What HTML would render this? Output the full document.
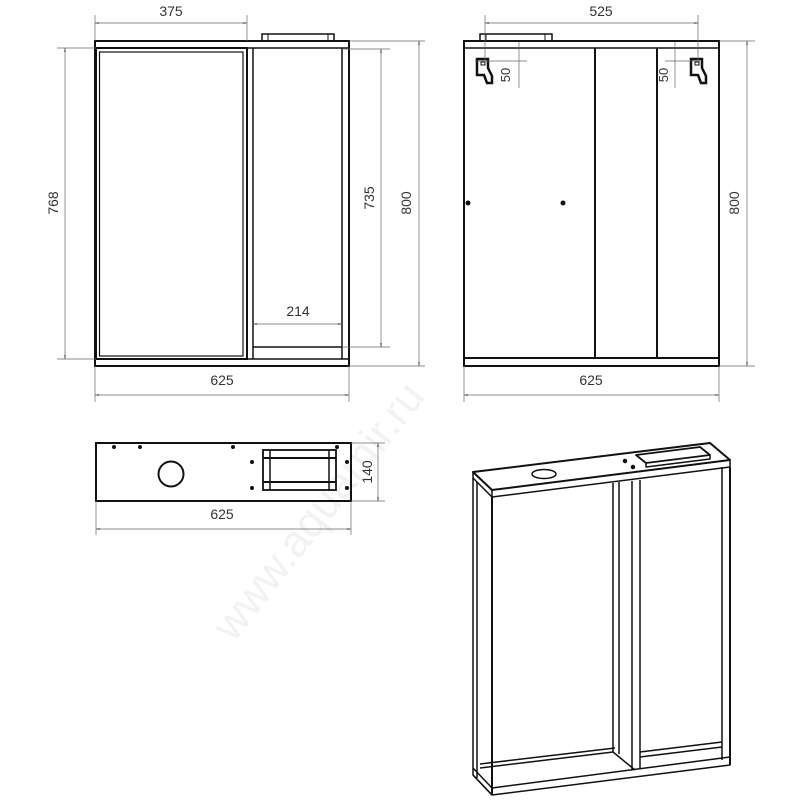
<!DOCTYPE html>
<html><head><style>html,body{margin:0;padding:0;background:#fff}svg{display:block}</style></head>
<body>
<svg width="800" height="800" viewBox="0 0 800 800" xmlns="http://www.w3.org/2000/svg" font-family="Liberation Sans, sans-serif">
<defs>
<marker id="a" viewBox="0 0 10 10" refX="10" refY="5" markerWidth="6" markerHeight="6" orient="auto-start-reverse"><path d="M0,3 L10,5 L0,7" fill="none" stroke="#555" stroke-width="1"/></marker>
</defs>
<text x="330" y="520" font-size="44" fill="#f2f2f2" transform="rotate(-52 330 520)" text-anchor="middle">www.aquamir.ru</text>

<!-- FRONT VIEW -->
<g fill="none" stroke="#111">
<rect x="95" y="41" width="254" height="325" stroke-width="2"/>
<line x1="95" y1="48" x2="349" y2="48" stroke-width="1.5"/>
<rect x="96" y="48" width="151" height="311" stroke-width="2"/>
<rect x="99.5" y="52" width="143.5" height="304" stroke-width="1.2"/>
<line x1="253" y1="48" x2="253" y2="359" stroke-width="1.5"/>
<line x1="342" y1="48" x2="342" y2="359" stroke-width="1.5"/>
<line x1="253" y1="347" x2="342" y2="347" stroke-width="1.5"/>
<line x1="95" y1="359" x2="349" y2="359" stroke-width="1.5"/>
<rect x="262" y="34" width="72" height="7" stroke-width="1.5"/>
<line x1="268" y1="34" x2="268" y2="41"/><line x1="328" y1="34" x2="328" y2="41"/>
<line x1="156" y1="48.5" x2="185" y2="48.5" stroke-width="1"/>
</g>
<g stroke="#666" stroke-width="0.7" fill="none">
<line x1="95" y1="15" x2="95" y2="41"/><line x1="247" y1="15" x2="247" y2="41"/>
<line x1="95" y1="23" x2="247" y2="23" marker-start="url(#a)" marker-end="url(#a)"/>
<line x1="57" y1="48" x2="96" y2="48"/><line x1="57" y1="359" x2="96" y2="359"/>
<line x1="65" y1="48" x2="65" y2="359" marker-start="url(#a)" marker-end="url(#a)"/>
<line x1="342" y1="49" x2="390" y2="49"/><line x1="342" y1="347" x2="390" y2="347"/>
<line x1="381" y1="49" x2="381" y2="347" marker-start="url(#a)" marker-end="url(#a)"/>
<line x1="349" y1="41" x2="425" y2="41"/><line x1="349" y1="366" x2="425" y2="366"/>
<line x1="419" y1="41" x2="419" y2="366" marker-start="url(#a)" marker-end="url(#a)"/>
<line x1="253" y1="324" x2="342" y2="324" marker-start="url(#a)" marker-end="url(#a)"/>
<line x1="95" y1="366" x2="95" y2="402"/><line x1="349" y1="366" x2="349" y2="402"/>
<line x1="95" y1="395" x2="349" y2="395" marker-start="url(#a)" marker-end="url(#a)"/>
</g>
<g font-size="14" fill="#333" text-anchor="middle">
<text x="171" y="16">375</text>
<text x="222" y="385">625</text>
<text x="298" y="316">214</text>
<text transform="translate(58,203) rotate(-90)">768</text>
<text transform="translate(374,198) rotate(-90)">735</text>
<text transform="translate(411,203) rotate(-90)">800</text>
</g>

<!-- BACK VIEW -->
<g fill="none" stroke="#111">
<rect x="464" y="41" width="255" height="325" stroke-width="2"/>
<line x1="464" y1="48" x2="719" y2="48" stroke-width="1.5"/>
<line x1="464" y1="358" x2="719" y2="358" stroke-width="2"/>
<line x1="595" y1="48" x2="595" y2="358" stroke-width="2"/>
<line x1="657" y1="48" x2="657" y2="358" stroke-width="2"/>
<rect x="480" y="34" width="72" height="7" stroke-width="1.5"/>
<line x1="486" y1="34" x2="486" y2="41"/><line x1="545" y1="34" x2="545" y2="41"/>
<path d="M477,59 h11 v9 l4,8 v7 h-5 l-3,-8 h-7 z" stroke-width="2.5"/>
<path d="M691,59 h11 v9 l4,8 v7 h-5 l-3,-8 h-7 z" stroke-width="2.5"/>
<rect x="481" y="62" width="4" height="3" stroke-width="1"/>
<rect x="695" y="62" width="4" height="3" stroke-width="1"/>
</g>
<circle cx="468" cy="203" r="2.5" fill="#111"/><circle cx="563" cy="203" r="2.5" fill="#111"/>
<g stroke="#666" stroke-width="0.7" fill="none">
<line x1="485" y1="15" x2="485" y2="62"/><line x1="698" y1="15" x2="698" y2="62"/>
<line x1="485" y1="23" x2="698" y2="23" marker-start="url(#a)" marker-end="url(#a)"/>
<line x1="519" y1="42" x2="519" y2="88"/><line x1="475" y1="61" x2="527" y2="61"/>
<line x1="675" y1="42" x2="675" y2="88"/><line x1="665" y1="61" x2="700" y2="61"/>
<line x1="719" y1="41" x2="755" y2="41"/><line x1="719" y1="366" x2="755" y2="366"/>
<line x1="747" y1="41" x2="747" y2="366" marker-start="url(#a)" marker-end="url(#a)"/>
<line x1="464" y1="366" x2="464" y2="402"/><line x1="719" y1="366" x2="719" y2="402"/>
<line x1="464" y1="395" x2="719" y2="395" marker-start="url(#a)" marker-end="url(#a)"/>
</g>
<g font-size="14" fill="#333" text-anchor="middle">
<text x="601" y="16">525</text>
<text x="591" y="385">625</text>
<text transform="translate(510,75) rotate(-90)" font-size="13">50</text>
<text transform="translate(668,75) rotate(-90)" font-size="13">50</text>
<text transform="translate(739,203) rotate(-90)">800</text>
</g>

<!-- TOP VIEW -->
<g fill="none" stroke="#111">
<rect x="96" y="443" width="255" height="58" stroke-width="2"/>
<circle cx="171" cy="474" r="12.5" stroke-width="2"/>
<rect x="263" y="450" width="73" height="40" stroke-width="1.8"/>
<line x1="263" y1="458" x2="336" y2="458" stroke-width="2"/>
<line x1="263" y1="482" x2="336" y2="482" stroke-width="2"/>
<line x1="270" y1="450" x2="270" y2="490" stroke-width="1.5"/>
<line x1="329" y1="450" x2="329" y2="490" stroke-width="1.5"/>
</g>
<g fill="#111">
<circle cx="114" cy="447" r="2"/><circle cx="140" cy="447" r="2"/><circle cx="233" cy="447" r="2"/><circle cx="337" cy="447" r="2"/>
<circle cx="252" cy="462" r="2"/><circle cx="252" cy="488" r="2"/><circle cx="347" cy="462" r="2"/><circle cx="347" cy="488" r="2"/>
</g>
<g stroke="#666" stroke-width="0.7" fill="none">
<line x1="351" y1="443" x2="385" y2="443"/><line x1="351" y1="501" x2="385" y2="501"/>
<line x1="378" y1="443" x2="378" y2="501" marker-start="url(#a)" marker-end="url(#a)"/>
<line x1="96" y1="501" x2="96" y2="535"/><line x1="351" y1="501" x2="351" y2="535"/>
<line x1="96" y1="529" x2="351" y2="529" marker-start="url(#a)" marker-end="url(#a)"/>
</g>
<g font-size="14" fill="#333" text-anchor="middle">
<text x="222" y="519">625</text>
<text transform="translate(372,472) rotate(-90)">140</text>
</g>

<!-- ISOMETRIC -->
<g fill="none" stroke="#111" stroke-width="1.5" stroke-linejoin="round">
<path d="M473,472 L710,443 L730,460 L492,490 Z" stroke-width="2"/>
<path d="M492,490 L492,497 L730,467 L730,460"/>
<path d="M473,472 L473,478 L492,497"/>
<ellipse cx="544" cy="474" rx="12" ry="4.5"/>
<path d="M636,455 L700,447 L710,455 L646,463 Z" stroke-width="1.8"/>
<path d="M646,463 L646,467 L710,459 L710,455"/>
<circle cx="625" cy="461" r="1.5" fill="#111"/><circle cx="633" cy="467" r="1.5" fill="#111"/>
<path d="M473,478 L473,775 L492,795"/>
<path d="M477,482 L477,778"/>
<path d="M492,497 L492,795" stroke-width="2"/>
<path d="M473,775 L492,795 L730,765 L730,757 L492,788 L473,768"/>
<path d="M480,768 L613,752 L635,770"/>
<path d="M480,764 L615,748"/>
<path d="M613,483 L613,752"/><path d="M619,482 L619,754"/>
<path d="M632,481 L632,770"/><path d="M640,480 L640,768"/>
<path d="M722,467 L722,760"/><path d="M730,467 L730,765" stroke-width="2"/>
<path d="M640,752 L722,742"/><path d="M640,757 L722,747"/>
</g>
</svg>
</body></html>
